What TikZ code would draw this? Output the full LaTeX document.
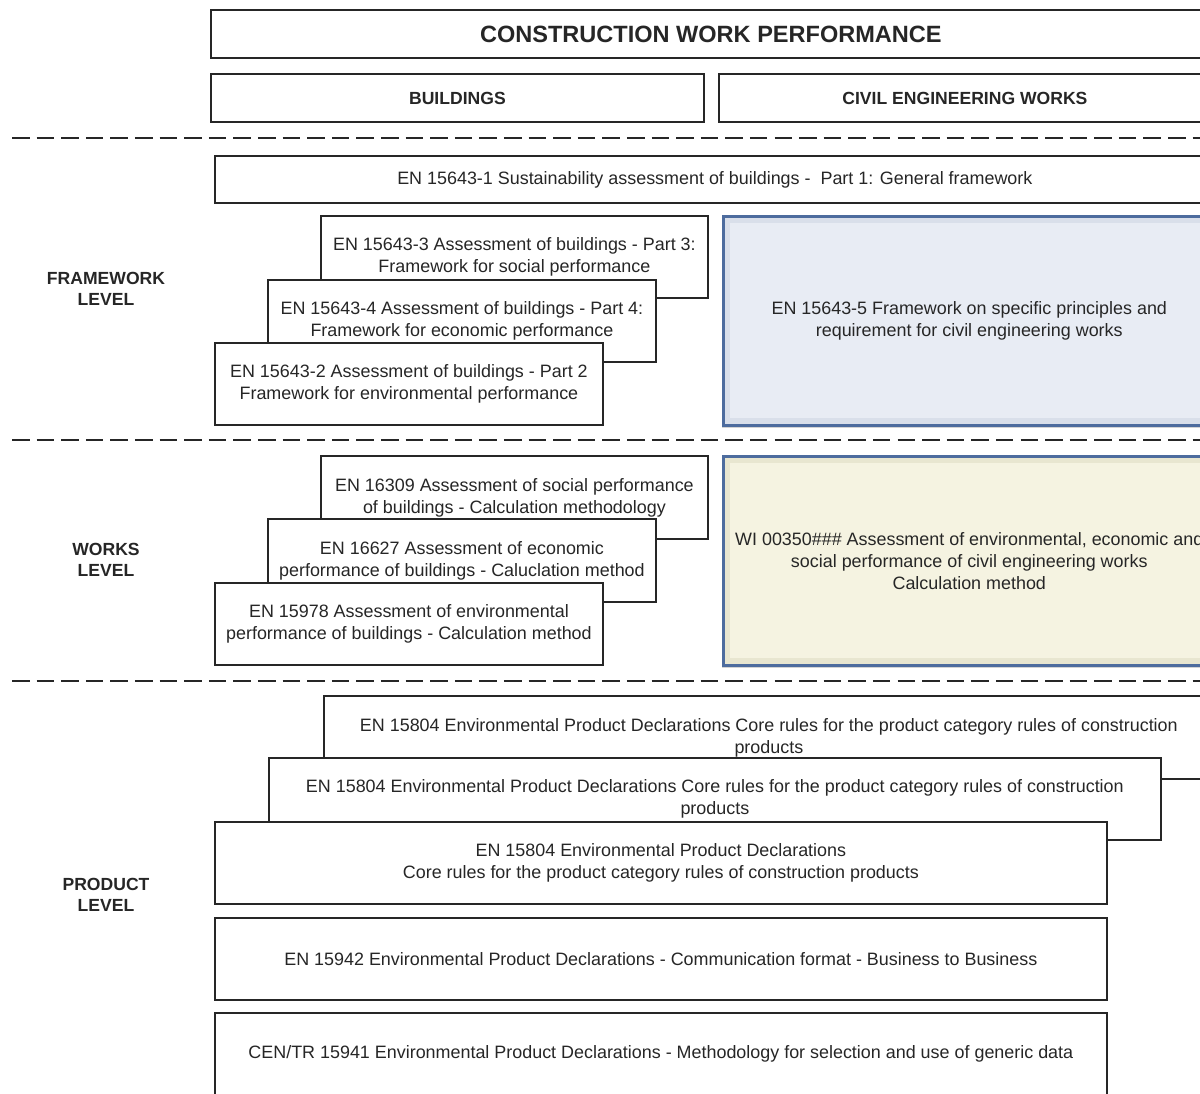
\documentclass[tikz,border=0pt]{standalone}
\usepackage{fontspec}
\setmainfont{Liberation Sans}
\usetikzlibrary{positioning, shadows}

\definecolor{frameblue}{HTML}{4D6C9E}
\definecolor{bevelblue}{HTML}{D9DFEA}
\definecolor{paleblue}{HTML}{E8ECF4}
\definecolor{bevelyellow}{HTML}{E8E6D0}
\definecolor{paleyellow}{HTML}{F5F3E1}

\tikzset{
  stdbox/.style={draw=black!85, line width=1.1pt, fill=white, align=center,
    text=black!85, font=\fontsize{10.2}{12.5}\selectfont, anchor=north west, inner sep=0pt},
  headbox/.style={stdbox, font=\bfseries\fontsize{10}{12}\selectfont},
  levellabel/.style={font=\bfseries\fontsize{10}{12}\selectfont, align=center, text=black!85},
  levelsep/.style={line width=1.2pt, black!85, dash pattern=on 10pt off 4pt},
  civbox/.style n args={2}{stdbox, draw=frameblue, line width=1.5pt, fill=#1,
    drop shadow={opacity=0.35, shadow xshift=-1pt, shadow yshift=-1.5pt},
    path picture={\fill[#2] ([shift={(4pt,-4pt)}]path picture bounding box.north west)
      rectangle ([shift={(-4pt,4pt)}]path picture bounding box.south east);}},
}

\begin{document}
\begin{tikzpicture}[x=0.02cm, y=-0.02cm]
  \useasboundingbox (0,0) rectangle (1200,1093);
  \clip (0,0) rectangle (1200,1093);

  % header
  \node[headbox, font=\bfseries\fontsize{13.4}{15}\selectfont, minimum width=20cm, minimum height=0.96cm] (title) at (210,9) {CONSTRUCTION WORK PERFORMANCE};
  \node[headbox, minimum width=9.86cm, minimum height=0.96cm] (bldg) at (210,73) {BUILDINGS};
  \node[headbox, minimum width=9.84cm, minimum height=0.96cm] (civil) at (718,73) {CIVIL ENGINEERING WORKS};

  % level separators
  \foreach \y in {138, 440, 681} {
    \draw[levelsep] (12,\y) -- (1200,\y);
  }

  % framework level
  \node[levellabel] (fwlabel) at (106,289) {FRAMEWORK\\LEVEL};
  \node[stdbox, minimum width=20cm, minimum height=0.94cm] (fwgen) at (214,155) {EN 15643-1 Sustainability assessment of buildings -\ \ Part 1: General framework};
  \node[stdbox, minimum width=7.74cm, minimum height=1.64cm] (fwsoc) at (320,215) {EN 15643-3 Assessment of buildings - Part 3:\\Framework for social performance};
  \node[stdbox, minimum width=7.76cm, minimum height=1.64cm] (fweco) at (267,279) {EN 15643-4 Assessment of buildings - Part 4:\\Framework for economic performance};
  \node[stdbox, minimum width=7.76cm, minimum height=1.64cm] (fwenv) at (214,342) {EN 15643-2 Assessment of buildings - Part 2\\Framework for environmental performance};
  \node[civbox={bevelblue}{paleblue}, minimum width=9.84cm, minimum height=4.18cm] (fwciv) at (722,215) {EN 15643-5 Framework on specific principles and\\requirement for civil engineering works};

  % works level
  \node[levellabel] (wklabel) at (106,560) {WORKS\\LEVEL};
  \node[stdbox, minimum width=7.74cm, minimum height=1.66cm] (wksoc) at (320,455) {EN 16309 Assessment of social performance\\of buildings - Calculation methodology};
  \node[stdbox, minimum width=7.76cm, minimum height=1.66cm] (wkeco) at (267,518) {EN 16627 Assessment of economic\\performance of buildings - Caluclation method};
  \node[stdbox, minimum width=7.76cm, minimum height=1.64cm] (wkenv) at (214,582) {EN 15978 Assessment of environmental\\performance of buildings - Calculation method};
  \node[civbox={bevelyellow}{paleyellow}, minimum width=9.84cm, minimum height=4.18cm] (wkciv) at (722,455) {WI 00350\#\#\# Assessment of environmental, economic and\\social performance of civil engineering works\\Calculation method};

  % product level
  \node[levellabel] (prlabel) at (106,895) {PRODUCT\\LEVEL};
  \node[stdbox, minimum width=17.8cm, minimum height=1.66cm] (epdc) at (323,695) {EN 15804 Environmental Product Declarations Core rules for the product category rules of construction\\products};
  \node[stdbox, minimum width=17.84cm, minimum height=1.64cm] (epdb) at (268,757) {EN 15804 Environmental Product Declarations Core rules for the product category rules of construction\\products};
  \node[stdbox, minimum width=17.84cm, minimum height=1.64cm] (epda) at (214,821) {EN 15804 Environmental Product Declarations\\Core rules for the product category rules of construction products};
  \node[stdbox, minimum width=17.84cm, minimum height=1.64cm] (comm) at (214,917) {EN 15942 Environmental Product Declarations - Communication format - Business to Business};
  \node[stdbox, minimum width=17.84cm, minimum height=1.64cm] (generic) at (214,1012) {CEN/TR 15941 Environmental Product Declarations - Methodology for selection and use of generic data};
\end{tikzpicture}
\end{document}
